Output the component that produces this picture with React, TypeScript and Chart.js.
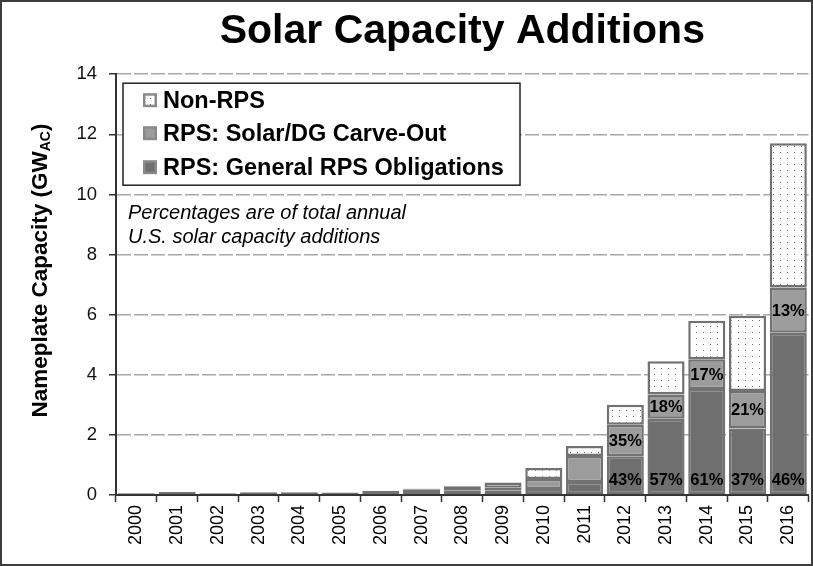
import React, { useEffect, useRef } from 'react';
import { Chart, registerables } from 'chart.js';

Chart.register(...registerables);

// ---------- data ----------
const years = ['2000', '2001', '2002', '2003', '2004', '2005', '2006', '2007', '2008', '2009', '2010', '2011', '2012', '2013', '2014', '2015', '2016'];
const generalRps = [0.06, 0.1, 0.06, 0.09, 0.09, 0.08, 0.13, 0.19, 0.16, 0.16, 0.2, 0.43, 1.29, 2.54, 3.53, 2.21, 5.4];
const carveOut = [0, 0, 0, 0, 0, 0, 0.01, 0.02, 0.04, 0.08, 0.33, 0.87, 1.05, 0.8, 0.99, 1.25, 1.5];
const nonRps = [0, 0, 0, 0, 0, 0, 0, 0.01, 0.09, 0.18, 0.37, 0.33, 0.66, 1.11, 1.28, 2.5, 4.8];
const generalPct = ['', '', '', '', '', '', '', '', '', '', '', '', '43%', '57%', '61%', '37%', '46%'];
const carvePct = ['', '', '', '', '', '', '', '', '', '', '', '', '35%', '18%', '17%', '21%', '13%'];
const seriesNames = ['RPS: General RPS Obligations', 'RPS: Solar/DG Carve-Out', 'Non-RPS'];
const yTickValues = [0, 2, 4, 6, 8, 10, 12, 14];
const chartTitle = 'Solar Capacity Additions';
const yTitleMain = 'Nameplate Capacity (GW';
const yTitleSub = 'AC';
const yTitleEnd = ')';
const noteLines = ['Percentages are of total annual', 'U.S. solar capacity additions'];

const FONT = "'Liberation Sans', Arial, Helvetica, sans-serif";
const GENERAL_COLOR = '#6f6f6f';
const CARVE_COLOR = '#9c9c9c';
const BORDER_COLOR = '#727272';

function makeDots(): CanvasPattern | string {
  const pc = document.createElement('canvas');
  pc.width = 7;
  pc.height = 6;
  const c = pc.getContext('2d');
  if (!c) return '#ffffff';
  c.fillStyle = '#ffffff';
  c.fillRect(0, 0, 7, 6);
  c.fillStyle = '#6a6a6a';
  c.fillRect(3, 2, 1, 1);
  const p = c.createPattern(pc, 'repeat');
  return p || '#ffffff';
}

const decorPlugin = {
  id: 'decor',
  afterDatasetsDraw(chart: any) {
    const { ctx } = chart;
    const y = chart.scales.y;
    const m0 = chart.getDatasetMeta(0);
    const m1 = chart.getDatasetMeta(1);
    ctx.save();
    ctx.font = `bold 16.5px ${FONT}`;
    ctx.fillStyle = '#000';
    ctx.textAlign = 'center';
    ctx.textBaseline = 'middle';
    generalPct.forEach((t, i) => {
      if (!t) return;
      const el = m0.data[i];
      ctx.fillText(t, el.x, y.getPixelForValue(0) - 15);
    });
    carvePct.forEach((t, i) => {
      if (!t) return;
      const el = m1.data[i];
      ctx.fillText(t, el.x, (el.y + el.base) / 2 + 1);
    });
    ctx.restore();
  },
  afterDraw(chart: any) {
    const { ctx, chartArea, width, height } = chart;
    const dots = chart.data.datasets[2].backgroundColor;
    ctx.save();

    // legend box
    const bx = chartArea.left + 7;
    const by = chartArea.top + 9;
    const bw = 397;
    const bh = 102;
    ctx.fillStyle = '#fff';
    ctx.fillRect(bx, by, bw, bh);
    ctx.strokeStyle = '#222';
    ctx.lineWidth = 1.5;
    ctx.strokeRect(bx, by, bw, bh);

    const rows = [
      { name: seriesNames[2], fill: dots, dy: 17 },
      { name: seriesNames[1], fill: CARVE_COLOR, dy: 50 },
      { name: seriesNames[0], fill: GENERAL_COLOR, dy: 84 },
    ];
    ctx.font = `bold 23.5px ${FONT}`;
    ctx.textAlign = 'left';
    ctx.textBaseline = 'middle';
    rows.forEach((r) => {
      const cy = by + r.dy;
      const mx = bx + 20;
      ctx.fillStyle = '#8a8a8a';
      ctx.fillRect(mx, cy - 7, 14, 14);
      ctx.fillStyle = r.fill;
      ctx.fillRect(mx + 2.5, cy - 4.5, 9, 9);
      ctx.fillStyle = '#000';
      ctx.fillText(r.name, bx + 40, cy + 1);
    });

    // note
    ctx.font = `italic 20px ${FONT}`;
    ctx.fillStyle = '#000';
    ctx.fillText(noteLines[0], chartArea.left + 12, chartArea.top + 139);
    ctx.fillText(noteLines[1], chartArea.left + 12, chartArea.top + 163);

    // y axis title with subscript
    ctx.save();
    ctx.translate(41, (chartArea.top + chartArea.bottom) / 2 - 14);
    ctx.rotate(-Math.PI / 2);
    ctx.fillStyle = '#000';
    ctx.textBaseline = 'middle';
    const big = `bold 22.5px ${FONT}`;
    const small = `bold 14px ${FONT}`;
    ctx.font = big;
    const w1 = ctx.measureText(yTitleMain).width;
    const w3 = ctx.measureText(yTitleEnd).width;
    ctx.font = small;
    const w2 = ctx.measureText(yTitleSub).width;
    let x = -(w1 + w2 + w3) / 2;
    ctx.font = big;
    ctx.fillText(yTitleMain, x, 0);
    x += w1;
    ctx.font = small;
    ctx.fillText(yTitleSub, x, 5);
    x += w2;
    ctx.font = big;
    ctx.fillText(yTitleEnd, x, 0);
    ctx.restore();

    // frame
    ctx.strokeStyle = '#3d3d3d';
    ctx.lineWidth = 2;
    ctx.strokeRect(1, 1, width - 2, height - 2);
    ctx.restore();
  },
};

export default function App() {
  const ref = useRef<HTMLCanvasElement | null>(null);

  useEffect(() => {
    if (!ref.current) return;
    const dots = makeDots();
    const common = {
      borderColor: BORDER_COLOR,
      borderWidth: 2.5,
      borderSkipped: false,
      barPercentage: 0.91,
      categoryPercentage: 1.0,
      stack: 's',
    };
    const chart = new Chart(ref.current, {
      type: 'bar',
      data: {
        labels: years,
        datasets: [
          { label: seriesNames[0], data: generalRps, backgroundColor: GENERAL_COLOR, ...common },
          { label: seriesNames[1], data: carveOut, backgroundColor: CARVE_COLOR, ...common },
          { label: seriesNames[2], data: nonRps, backgroundColor: dots, ...common },
        ],
      } as any,
      options: {
        animation: false,
        responsive: false,
        maintainAspectRatio: false,
        layout: { padding: { left: 0, right: 1, top: 0, bottom: 0 } },
        plugins: {
          legend: { display: false },
          tooltip: { enabled: false },
          title: {
            display: true,
            text: chartTitle,
            fullSize: false,
            color: '#000',
            font: { family: FONT, size: 41, weight: 'bold', lineHeight: 1.2 },
            padding: { top: 7, bottom: 18 },
          },
        },
        scales: {
          x: {
            stacked: true,
            grid: {
              display: true,
              drawOnChartArea: false,
              drawTicks: true,
              tickLength: 7,
              tickColor: '#333',
              tickWidth: 1.5,
              offset: true,
            },
            border: { display: true, color: '#333', width: 2 },
            ticks: {
              autoSkip: false,
              minRotation: 90,
              maxRotation: 90,
              padding: 3,
              color: '#000',
              font: { family: FONT, size: 18 },
            },
            afterFit: (s: any) => {
              s.height = 71;
            },
          },
          y: {
            stacked: true,
            min: 0,
            max: 14,
            afterBuildTicks: (s: any) => {
              s.ticks = yTickValues.map((v) => ({ value: v }));
            },
            grid: {
              color: '#a8a8a8',
              lineWidth: 1.5,
              tickColor: '#333',
              tickLength: 7,
              tickWidth: 1.5,
            },
            border: { display: true, color: '#333', width: 2, dash: [14, 3] },
            ticks: {
              padding: 12,
              color: '#111',
              font: { family: FONT, size: 18.5 },
            },
            afterFit: (s: any) => {
              s.width = 116;
            },
          },
        },
      } as any,
      plugins: [decorPlugin],
    });
    return () => chart.destroy();
  }, []);

  return (
    <div style={{ position: 'fixed', left: 0, top: 0, width: 813, height: 566, background: '#fff' }}>
      <canvas ref={ref} width={813} height={566} style={{ display: 'block', width: 813, height: 566 }} />
    </div>
  );
}
